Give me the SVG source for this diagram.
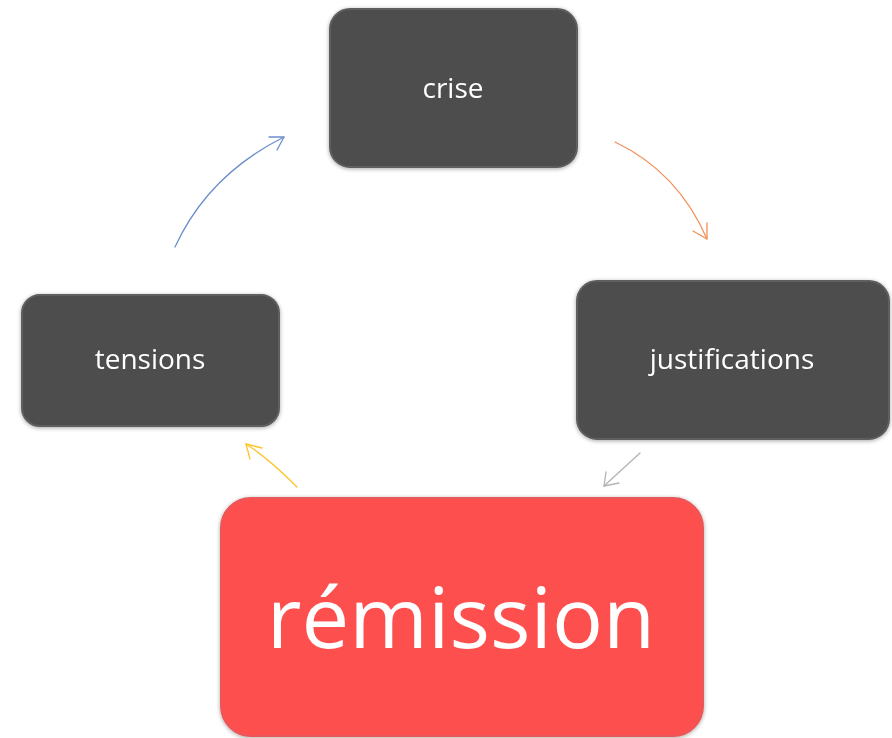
<svg xmlns="http://www.w3.org/2000/svg" width="892" height="738" viewBox="0 0 892 738">
<defs>
<style>
.box{fill:#4d4d4d;stroke:#5e5e5e;stroke-width:2}
.red{fill:#fe5050;stroke:#e85858;stroke-width:2}
.lbl{font-family:"Open Sans","Liberation Sans",sans-serif;fill:#ffffff;text-anchor:middle}
.con{fill:none;stroke-width:1.3;stroke-linecap:round;stroke-linejoin:round}
</style>
<filter id="sh" x="-10%" y="-10%" width="120%" height="120%">
<feGaussianBlur in="SourceAlpha" stdDeviation="2"/>
<feOffset dx="0" dy="1" result="b"/>
<feComponentTransfer><feFuncA type="linear" slope="0.35"/></feComponentTransfer>
<feMerge><feMergeNode/><feMergeNode in="SourceGraphic"/></feMerge>
</filter>
</defs>
<rect width="892" height="738" fill="#ffffff"/>
<g id="connectors">
<path class="con" stroke="#6d8fcb" d="M175,247 Q208,175 284,137"/>
<path class="con" stroke="#6d8fcb" d="M269,137 L284,137 L277,150"/>
<path class="con" stroke="#f39058" d="M615,142 Q678,172 707,239"/>
<path class="con" stroke="#f39058" d="M707,223 L707,239 L693,231"/>
<path class="con" stroke="#b3b3b3" d="M640,453 L604,486"/>
<path class="con" stroke="#b3b3b3" d="M606,472 L604,486 L619,483"/>
<path class="con" stroke="#fdc52a" d="M297,487 Q268,458 246,444"/>
<path class="con" stroke="#fdc52a" d="M262,448 L246,444 L250,459"/>
</g>
<g id="crise" filter="url(#sh)">
<rect class="box" x="330" y="9" width="247" height="158" rx="20"/>
<text class="lbl" x="453" y="98" font-size="28">crise</text>
</g>
<g id="justifications" filter="url(#sh)">
<rect class="box" x="577" y="281" width="312" height="158" rx="20"/>
<text class="lbl" x="732" y="369" font-size="28">justifications</text>
</g>
<g id="tensions" filter="url(#sh)">
<rect class="box" x="22" y="295" width="257" height="131" rx="18"/>
<text class="lbl" x="150" y="369" font-size="28">tensions</text>
</g>
<g id="remission" filter="url(#sh)">
<rect class="red" x="221" y="498" width="482" height="238" rx="30"/>
<text class="lbl" x="461" y="648" font-size="85">rémission</text>
</g>
</svg>
